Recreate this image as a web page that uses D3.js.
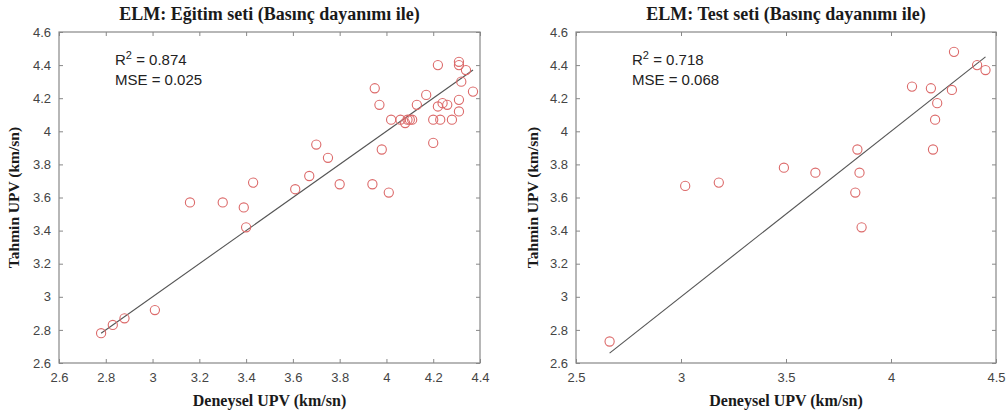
<!DOCTYPE html>
<html><head><meta charset="utf-8">
<script src="https://cdn.jsdelivr.net/npm/d3@7"></script>
<style>body{margin:0;background:#fff}</style>
</head><body>
<svg id="c" width="1008" height="416"></svg>
<script>
// Training set (Eğitim seti)
const trainX = [2.78,2.83,2.88,3.01,3.16,3.30,3.39,3.40,3.43,3.61,3.67,3.70,3.75,3.80,3.94,3.95,3.97,3.98,4.01,4.02,4.06,4.08,4.09,4.10,4.11,4.13,4.17,4.20,4.20,4.22,4.22,4.23,4.24,4.26,4.28,4.31,4.31,4.32,4.31,4.31,4.34,4.37];
const trainY = [2.78,2.83,2.87,2.92,3.57,3.57,3.54,3.42,3.69,3.65,3.73,3.92,3.84,3.68,3.68,4.26,4.16,3.89,3.63,4.07,4.07,4.05,4.07,4.07,4.07,4.16,4.22,4.07,3.93,4.40,4.15,4.07,4.17,4.16,4.07,4.42,4.40,4.30,4.19,4.12,4.37,4.24];
// Test set
const testX = [2.66,3.02,3.18,3.49,3.64,3.84,3.85,3.83,3.86,4.10,4.19,4.22,4.21,4.20,4.29,4.30,4.41,4.45];
const testY = [2.73,3.67,3.69,3.78,3.75,3.89,3.75,3.63,3.42,4.27,4.26,4.17,4.07,3.89,4.25,4.48,4.40,4.37];
// Fit lines (endpoints in data units)
const trainFit = [[2.78,2.78],[4.37,4.37]];
const testFit = [[2.66,2.66],[4.45,4.45]];
const trainXTicks = [2.6,2.8,3,3.2,3.4,3.6,3.8,4,4.2,4.4];
const testXTicks = [2.5,3,3.5,4,4.5];
const yTicks = [2.6,2.8,3,3.2,3.4,3.6,3.8,4,4.2,4.4,4.6];
const titles = ["ELM: Eğitim seti (Basınç dayanımı ile)","ELM: Test seti (Basınç dayanımı ile)"];
const r2 = ["0.874","0.718"];
const mse = ["0.025","0.068"];
const xLabel = "Deneysel UPV (km/sn)";
const yLabel = "Tahmin UPV (km/sn)";

const svg = d3.select("#c");
const plotTop = 32, plotBottom = 363;
const panels = [
  {left:59, right:480, xd:[2.6,4.4], xt:trainXTicks, xs:trainX, ys:trainY, fit:trainFit, ylabX:19},
  {left:576, right:996, xd:[2.5,4.5], xt:testXTicks, xs:testX, ys:testY, fit:testFit, ylabX:538}
];
panels.forEach((p,i)=>{
  const x = d3.scaleLinear().domain(p.xd).range([p.left,p.right]);
  const y = d3.scaleLinear().domain([2.6,4.6]).range([plotBottom,plotTop]);
  const g = svg.append("g");
  const fmt = d=>String(+d.toFixed(1));
  const styleAxis = a=>{
    a.select(".domain").remove();
    a.selectAll(".tick line").attr("stroke","#888");
    a.selectAll(".tick text").attr("fill","#444").attr("font-family","Liberation Sans, Arial, sans-serif").attr("font-size","13px");
  };
  g.append("g").attr("transform",`translate(0,${plotBottom})`)
    .call(d3.axisBottom(x).tickValues(p.xt).tickFormat(fmt).tickSizeInner(-4).tickSizeOuter(0).tickPadding(10))
    .call(styleAxis);
  g.append("g").attr("transform",`translate(0,${plotTop})`)
    .call(d3.axisTop(x).tickValues(p.xt).tickFormat("").tickSizeInner(-4).tickSizeOuter(0))
    .call(styleAxis);
  g.append("g").attr("transform",`translate(${p.left},0)`)
    .call(d3.axisLeft(y).tickValues(yTicks).tickFormat(fmt).tickSizeInner(-4).tickSizeOuter(0).tickPadding(8))
    .call(styleAxis);
  g.append("g").attr("transform",`translate(${p.right},0)`)
    .call(d3.axisRight(y).tickValues(yTicks).tickFormat("").tickSizeInner(-4).tickSizeOuter(0))
    .call(styleAxis);
  g.append("rect").attr("x",p.left).attr("y",plotTop).attr("width",p.right-p.left).attr("height",plotBottom-plotTop)
    .attr("fill","none").attr("stroke","#888").attr("stroke-width",1.2);
  g.append("line").attr("x1",x(p.fit[0][0])).attr("y1",y(p.fit[0][1]))
    .attr("x2",x(p.fit[1][0])).attr("y2",y(p.fit[1][1]))
    .attr("stroke","#555").attr("stroke-width",1.1);
  g.selectAll("circle.pt").data(p.xs.map((v,k)=>[v,p.ys[k]])).join("circle")
    .attr("cx",d=>x(d[0])).attr("cy",d=>y(d[1])).attr("r",4.6)
    .attr("fill","none").attr("stroke","#dc6a6a").attr("stroke-width",1.1);
  const cx = (p.left+p.right)/2;
  g.append("text").attr("x",cx).attr("y",20).attr("text-anchor","middle")
    .attr("font-family","Liberation Serif, Times New Roman, serif").attr("font-weight","bold").attr("font-size","18px")
    .attr("fill","#1a1a1a").text(titles[i]);
  g.append("text").attr("x",cx).attr("y",406).attr("text-anchor","middle")
    .attr("font-family","Liberation Serif, Times New Roman, serif").attr("font-weight","bold").attr("font-size","16px")
    .attr("fill","#1a1a1a").text(xLabel);
  g.append("text").attr("transform",`translate(${p.ylabX},${(plotTop+plotBottom)/2}) rotate(-90)`).attr("text-anchor","middle")
    .attr("font-family","Liberation Serif, Times New Roman, serif").attr("font-weight","bold").attr("font-size","15.5px")
    .attr("fill","#1a1a1a").text(yLabel);
  const tx = p.left + 56;
  const t1 = g.append("text").attr("x",tx).attr("y",65).attr("font-family","Liberation Sans, Arial, sans-serif")
    .attr("font-size","15px").attr("fill","#222");
  t1.append("tspan").text("R");
  t1.append("tspan").attr("dy",-6).attr("font-size","11px").text("2");
  t1.append("tspan").attr("dy",6).text(" = "+r2[i]);
  g.append("text").attr("x",tx).attr("y",85).attr("font-family","Liberation Sans, Arial, sans-serif")
    .attr("font-size","15px").attr("fill","#222").text("MSE = "+mse[i]);
});
</script>
</body></html>
